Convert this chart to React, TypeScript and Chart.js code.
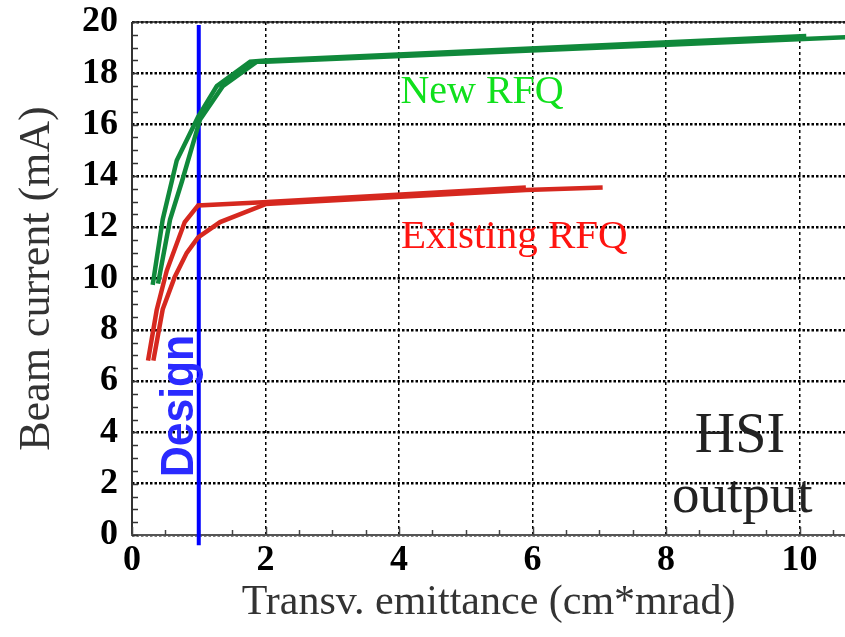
import React, { useEffect, useRef } from "react";
import { Chart, registerables } from "chart.js";

Chart.register(...registerables);

// Beam current (mA) versus transverse emittance (cm*mrad)
const newRfqUpperX = [0.31, 0.46, 0.67, 0.99, 1.27, 1.77, 2.0, 10.1];
const newRfqUpperY = [9.75, 12.3, 14.6, 16.3, 17.5, 18.45, 18.5, 19.45];
const newRfqLowerX = [0.39, 0.57, 0.75, 1.02, 1.36, 1.87, 2.0, 10.8];
const newRfqLowerY = [9.8, 12.3, 13.8, 16.2, 17.5, 18.45, 18.45, 19.42];

const existingRfqUpperX = [0.24, 0.37, 0.52, 0.79, 0.99, 1.96, 5.9];
const existingRfqUpperY = [6.8, 8.77, 10.3, 12.2, 12.85, 12.97, 13.55];
const existingRfqLowerX = [0.32, 0.46, 0.64, 0.82, 0.99, 1.32, 2.0, 5.9, 7.05];
const existingRfqLowerY = [6.8, 8.8, 10.06, 11.0, 11.6, 12.2, 12.9, 13.45, 13.55];

// Design emittance marker
const designX = [1.0, 1.0];
const designY = [-0.4, 19.88];

const xTickValues = [0, 2, 4, 6, 8, 10];
const yTickValues = [0, 2, 4, 6, 8, 10, 12, 14, 16, 18, 20];
const xMinorStep = 0.5;
const yMinorStep = 0.5;

const xAxisTitle = "Transv. emittance (cm*mrad)";
const yAxisTitle = "Beam current (mA)";

const toPoints = (xs: number[], ys: number[]) => xs.map((x, i) => ({ x, y: ys[i] }));

type Note = {
  text: string;
  x: number;
  y: number;
  font: string;
  color: string;
  rotate?: boolean;
  align?: CanvasTextAlign;
  maxWidth?: number;
};

const notes: Note[] = [
  { text: "New RFQ", x: 4.02, y: 16.85, font: "40px 'Liberation Serif'", color: "#10e01c" },
  { text: "Existing RFQ", x: 4.03, y: 11.19, font: "41px 'Liberation Serif'", color: "#ff1410" },
  { text: "HSI", x: 8.43, y: 3.24, font: "56px 'Liberation Serif'", color: "#222222" },
  { text: "output", x: 8.09, y: 0.9, font: "55px 'Liberation Serif'", color: "#222222" },
  {
    text: "Design",
    x: 0.91,
    y: 5.03,
    font: "bold 46px 'Liberation Sans'",
    color: "#2a2aff",
    rotate: true,
    align: "center",
    maxWidth: 142,
  },
];

const notesPlugin = {
  id: "notes",
  afterDatasetsDraw(chart: any) {
    const { ctx } = chart;
    const xs = chart.scales.x;
    const ys = chart.scales.y;
    ctx.save();
    for (const n of notes) {
      const px = xs.getPixelForValue(n.x);
      const py = ys.getPixelForValue(n.y);
      ctx.font = n.font;
      ctx.fillStyle = n.color;
      ctx.textAlign = n.align || "left";
      ctx.textBaseline = "alphabetic";
      if (n.rotate) {
        ctx.save();
        ctx.translate(px, py);
        ctx.rotate(-Math.PI / 2);
        if (n.maxWidth) ctx.fillText(n.text, 0, 0, n.maxWidth);
        else ctx.fillText(n.text, 0, 0);
        ctx.restore();
      } else {
        ctx.fillText(n.text, px, py);
      }
    }
    ctx.restore();
  },
};

// Frame lines and inward minor ticks
const framePlugin = {
  id: "frame",
  beforeDatasetsDraw(chart: any) {
    const { ctx, chartArea } = chart;
    const xs = chart.scales.x;
    const ys = chart.scales.y;
    const { left, right, top, bottom } = chartArea;
    ctx.save();
    ctx.setLineDash([]);
    // top edge
    ctx.strokeStyle = "#222";
    ctx.lineWidth = 1.5;
    ctx.beginPath();
    ctx.moveTo(left, top);
    ctx.lineTo(right, top);
    ctx.stroke();
    // left axis
    ctx.strokeStyle = "#333";
    ctx.lineWidth = 2;
    ctx.beginPath();
    ctx.moveTo(left, top);
    ctx.lineTo(left, bottom + 1);
    ctx.stroke();
    // bottom axis
    ctx.strokeStyle = "#555";
    ctx.beginPath();
    ctx.moveTo(left - 1, bottom);
    ctx.lineTo(right, bottom);
    ctx.stroke();
    // ticks
    ctx.lineWidth = 1.5;
    ctx.strokeStyle = "#333";
    for (let v = 0; v <= ys.max + 1e-9; v += yMinorStep) {
      const py = Math.round(ys.getPixelForValue(v)) + 0.5;
      ctx.beginPath();
      ctx.moveTo(left, py);
      ctx.lineTo(left + 6, py);
      ctx.stroke();
    }
    ctx.strokeStyle = "#444";
    for (let v = 0; v <= xs.max + 1e-9; v += xMinorStep) {
      const px = Math.round(xs.getPixelForValue(v)) + 0.5;
      const major = Math.abs(v - Math.round(v / 2) * 2) < 1e-6;
      ctx.beginPath();
      ctx.moveTo(px, bottom);
      ctx.lineTo(px, bottom - (major ? 8 : 5));
      ctx.stroke();
    }
    ctx.restore();
  },
};

export default function App() {
  const canvasRef = useRef<HTMLCanvasElement | null>(null);

  useEffect(() => {
    const canvas = canvasRef.current;
    if (!canvas) return;
    const chart = new Chart(canvas, {
      type: "line",
      data: {
        datasets: [
          {
            data: toPoints(newRfqUpperX, newRfqUpperY),
            borderColor: "#10893b",
            borderWidth: 4.5,
          },
          {
            data: toPoints(newRfqLowerX, newRfqLowerY),
            borderColor: "#10893b",
            borderWidth: 4.5,
          },
          {
            data: toPoints(existingRfqUpperX, existingRfqUpperY),
            borderColor: "#d6281f",
            borderWidth: 4.5,
          },
          {
            data: toPoints(existingRfqLowerX, existingRfqLowerY),
            borderColor: "#d6281f",
            borderWidth: 4.5,
          },
          {
            data: toPoints(designX, designY),
            borderColor: "#0000ff",
            borderWidth: 4,
            clip: false as any,
          },
        ],
      },
      options: {
        responsive: false,
        animation: false,
        devicePixelRatio: 1,
        parsing: false,
        normalized: true,
        elements: {
          point: { radius: 0, hoverRadius: 0 },
          line: { tension: 0, fill: false, borderCapStyle: "butt" },
        },
        layout: { padding: { top: 22, right: 0, bottom: 0, left: 0 } },
        plugins: {
          legend: { display: false },
          tooltip: { enabled: false },
        },
        scales: {
          x: {
            type: "linear",
            min: 0,
            max: 10.68,
            afterBuildTicks: (scale: any) => {
              scale.ticks = xTickValues.map((value) => ({ value }));
            },
            afterFit: (scale: any) => {
              scale.height = 102;
              scale.paddingLeft = 0;
              scale.paddingRight = 0;
            },
            ticks: {
              font: { family: "'Liberation Serif'", size: 36, weight: "bold" },
              color: "#000",
              padding: 4,
              maxRotation: 0,
              autoSkip: false,
              callback: (v: any) => String(v),
            },
            grid: {
              color: "#000",
              lineWidth: 1.5,
              drawTicks: false,
            },
            border: { display: false, dash: [3, 3] },
            title: {
              display: true,
              text: xAxisTitle,
              font: { family: "'Liberation Serif'", size: 42 },
              color: "#333",
              padding: { top: 0, bottom: 9 },
            },
          },
          y: {
            type: "linear",
            min: 0,
            max: 20,
            afterBuildTicks: (scale: any) => {
              scale.ticks = yTickValues.map((value) => ({ value }));
            },
            afterFit: (scale: any) => {
              scale.width = 132;
              scale.paddingTop = 0;
              scale.paddingBottom = 0;
            },
            ticks: {
              font: { family: "'Liberation Serif'", size: 36, weight: "bold" },
              color: "#000",
              padding: 14,
              autoSkip: false,
              callback: (v: any) => String(v),
            },
            grid: {
              color: "#000",
              lineWidth: 2.5,
              drawTicks: false,
            },
            border: { display: false, dash: [2.5, 2] },
            title: {
              display: true,
              text: yAxisTitle,
              font: { family: "'Liberation Serif'", size: 44 },
              color: "#333",
              padding: { top: 11, bottom: 0 },
            },
          },
        },
      },
      plugins: [framePlugin, notesPlugin],
    } as any);
    return () => chart.destroy();
  }, []);

  return (
    <div
      style={{
        position: "absolute",
        left: 0,
        top: 0,
        width: 845,
        height: 637,
        background: "#fff",
      }}
    >
      <canvas ref={canvasRef} width={845} height={637} style={{ display: "block" }} />
    </div>
  );
}
